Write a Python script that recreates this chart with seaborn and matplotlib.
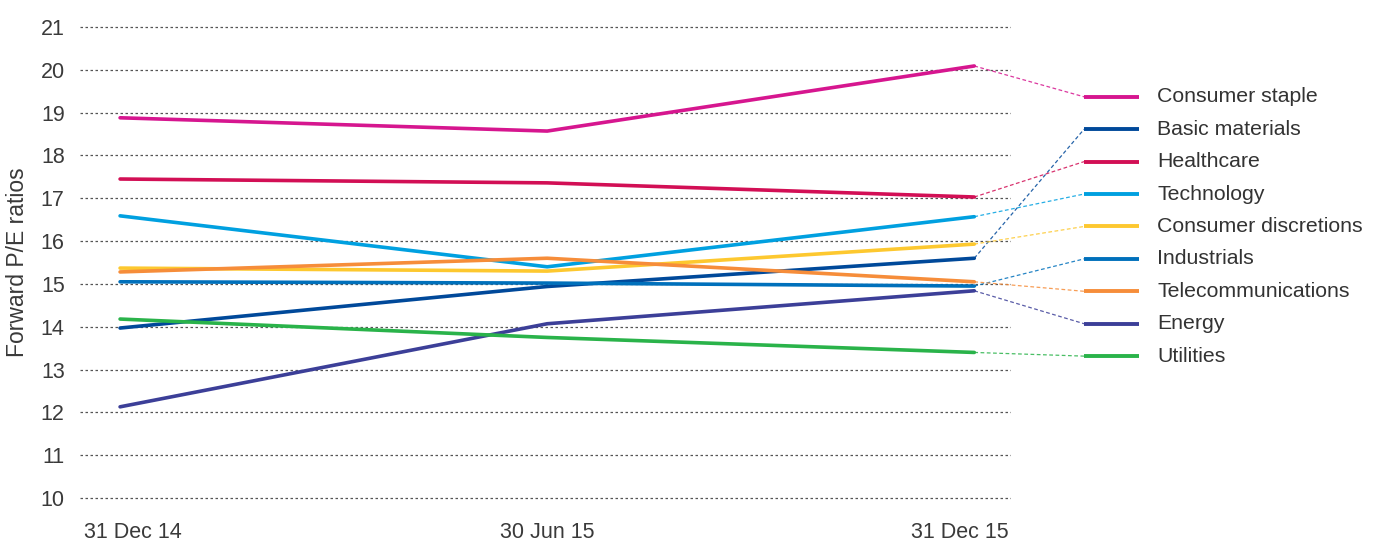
import pandas as pd
import matplotlib
matplotlib.use("Agg")
import matplotlib.pyplot as plt
import matplotlib.transforms as mtransforms
import seaborn as sns

# data
dates = ['31 Dec 14', '30 Jun 15', '31 Dec 15']
sectors = ['Consumer staple', 'Basic materials', 'Healthcare', 'Technology',
           'Consumer discretions', 'Industrials', 'Telecommunications', 'Energy', 'Utilities']

consumer_staple = [18.88, 18.57, 20.09]
basic_materials = [13.97, 14.94, 15.60]
healthcare = [17.45, 17.36, 17.03]
technology = [16.59, 15.40, 16.57]
consumer_discretions = [15.37, 15.30, 15.93]
industrials = [15.05, 15.02, 14.95]
telecommunications = [15.28, 15.60, 15.05]
energy = [12.13, 14.07, 14.84]
utilities = [14.18, 13.75, 13.40]

colors = ['#d6168f', '#00499a', '#d20f55', '#00a0e0', '#fdc82f',
          '#0070bb', '#f68d3a', '#3c3f98', '#2ab34a']

values = [consumer_staple, basic_materials, healthcare, technology, consumer_discretions,
          industrials, telecommunications, energy, utilities]

rows = []
for name, vals in zip(sectors, values):
    for i, v in enumerate(vals):
        rows.append({'sector': name, 'pos': i, 'pe': v})
df = pd.DataFrame(rows)

sns.set_style('white')
plt.rcParams['font.family'] = ['Liberation Sans', 'DejaVu Sans']

fig = plt.figure(figsize=(13.78, 5.41), dpi=100)
ax = fig.add_axes([0.058, 0.0715, 0.676, 0.8865])

sns.lineplot(data=df, x='pos', y='pe', hue='sector', hue_order=sectors,
             palette=colors, linewidth=2.6, legend=False, ax=ax, zorder=3)

ax.set_xlim(-0.094, 2.087)
ax.set_ylim(9.9, 21.1)
ax.set_yticks(range(10, 22))
ax.set_xticks(range(len(dates)))
ax.set_xticklabels(dates)
ax.grid(axis='y', linestyle=(0, (2, 2)), color='#555555', linewidth=0.9)
ax.grid(axis='x', visible=False)
for s in ax.spines.values():
    s.set_visible(False)
ax.tick_params(axis='both', length=0, labelsize=15.5, labelcolor='#3a3a3a')
ax.tick_params(axis='y', pad=11)
ax.tick_params(axis='x', pad=14)
ax.set_xlabel('')
ax.set_ylabel('Forward P/E ratios', fontsize=16.5, color='#3a3a3a', labelpad=8)

# keep end labels inside the plot width
xl = ax.get_xticklabels()
xl[0].set_ha('left')
xl[0].set_transform(xl[0].get_transform() + mtransforms.ScaledTranslation(-0.36, 0, fig.dpi_scale_trans))
xl[-1].set_ha('right')
xl[-1].set_transform(xl[-1].get_transform() + mtransforms.ScaledTranslation(0.34, 0, fig.dpi_scale_trans))

# legend on the right, linked to line ends
leg_x0, leg_x1, leg_tx = 2.257, 2.386, 2.428
leg_top, leg_step = 19.37, 0.757
for i, (name, vals, c) in enumerate(zip(sectors, values, colors)):
    ly = leg_top - i * leg_step
    ax.plot([2, leg_x0], [vals[-1], ly], color=c, linewidth=0.9,
            linestyle=(0, (3, 2)), alpha=0.85, clip_on=False, zorder=2)
    ax.plot([leg_x0, leg_x1], [ly, ly], color=c, linewidth=2.8,
            solid_capstyle='butt', clip_on=False)
    ax.text(leg_tx, ly, name, fontsize=15.3, color='#333333', va='center', ha='left')

fig.savefig('out.png', dpi=100)
